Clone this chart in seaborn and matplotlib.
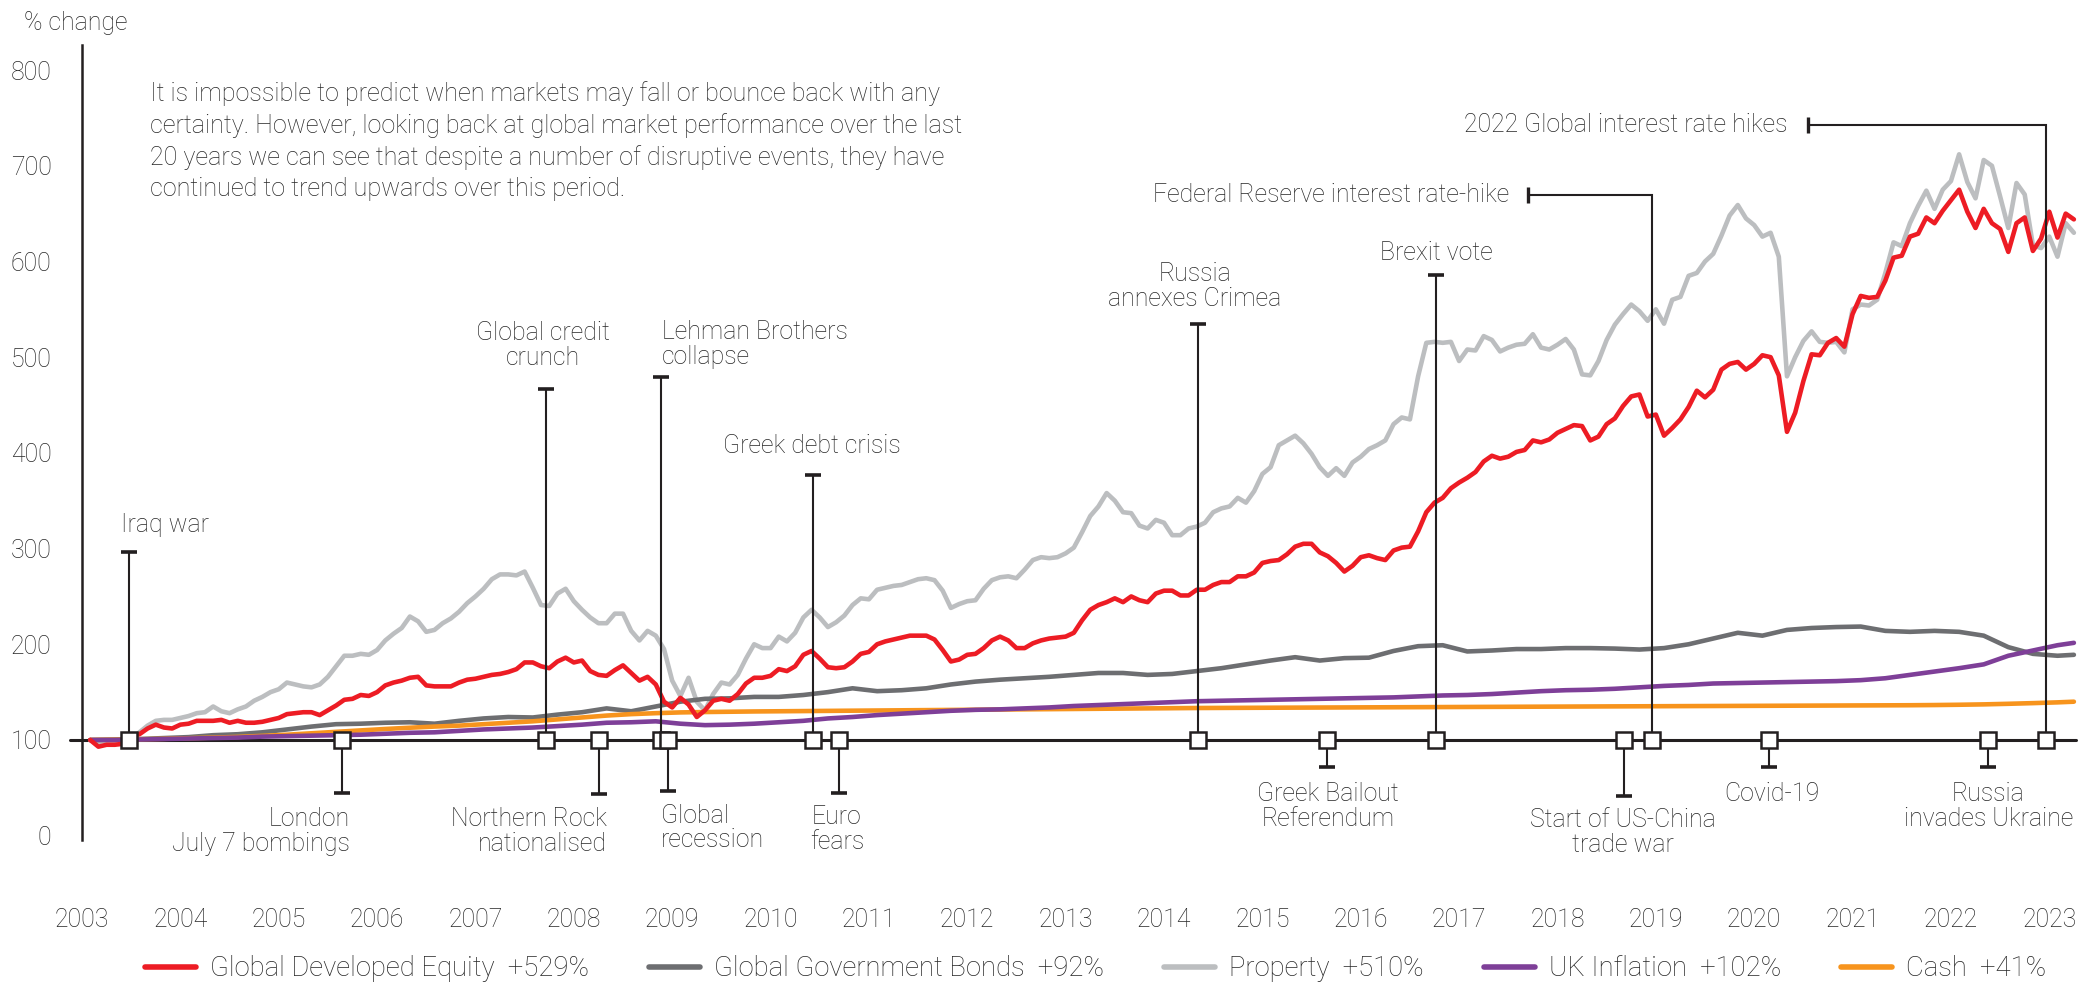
import numpy as np
import seaborn as sns
import matplotlib.pyplot as plt
from matplotlib.lines import Line2D

# monthly grid for the volatile series, quarterly for the smooth ones
months = 2003 + 1 / 12 + np.arange(243) / 12
quarters = np.append(months[::3], months[-1])

equity = [
    100, 93, 95, 95, 96, 104, 106, 112, 116, 113,
    112, 116, 117, 120, 120, 120, 121, 118, 120, 118,
    118, 119, 121, 123, 127, 128, 129, 129, 126, 131,
    136, 142, 143, 147, 146, 150, 157, 160, 162, 165,
    166, 157, 156, 156, 156, 160, 163, 164, 166, 168,
    169, 171, 174, 181, 181, 177, 175, 182, 186, 181,
    183, 172, 168, 167, 173, 178, 170, 162, 166, 158,
    140, 134, 144, 137, 124, 131, 141, 143, 141, 148,
    159, 165, 165, 167, 174, 172, 177, 189, 193, 185,
    176, 175, 176, 182, 190, 192, 200, 203, 205, 207,
    209, 209, 209, 205, 194, 182, 184, 189, 190, 196,
    204, 208, 204, 196, 196, 201, 204, 206, 207, 208,
    212, 225, 236, 241, 244, 248, 244, 250, 246, 244,
    253, 256, 256, 251, 251, 257, 257, 262, 265, 265,
    271, 271, 275, 285, 287, 288, 294, 302, 305, 305,
    296, 292, 285, 276, 282, 291, 293, 290, 288, 298,
    301, 302, 318, 338, 348, 353, 363, 369, 374, 380,
    391, 397, 394, 396, 401, 403, 413, 411, 414, 421,
    425, 429, 428, 413, 417, 430, 436, 449, 459, 461,
    438, 440, 418, 426, 435, 448, 465, 458, 466, 487,
    493, 495, 487, 493, 502, 500, 481, 422, 442, 475,
    503, 502, 515, 520, 511, 545, 564, 562, 563, 580,
    604, 606, 626, 629, 646, 640, 653, 664, 675, 652,
    635, 655, 640, 634, 610, 640, 646, 611, 624, 652,
    625, 650, 644,
]

prop = [
    100, 98, 99, 99, 100, 101, 108, 115, 120, 121,
    121, 123, 125, 128, 129, 135, 130, 128, 132, 135,
    141, 145, 150, 153, 160, 158, 156, 155, 158, 166,
    177, 188, 188, 190, 189, 194, 204, 211, 217, 229,
    224, 213, 215, 222, 227, 234, 243, 250, 258, 268,
    273, 273, 272, 276, 259, 241, 240, 253, 258, 245,
    236, 228, 222, 222, 232, 232, 214, 204, 214, 209,
    195, 162, 146, 165, 140, 131, 148, 160, 158, 168,
    185, 200, 196, 196, 208, 203, 212, 228, 236, 228,
    218, 223, 230, 241, 248, 247, 257, 259, 261, 262,
    265, 268, 269, 267, 256, 238, 242, 245, 246, 258,
    267, 270, 271, 269, 278, 288, 291, 290, 291, 295,
    301, 317, 334, 344, 358, 350, 338, 337, 324, 321,
    330, 327, 314, 314, 321, 323, 327, 338, 342, 344,
    353, 348, 360, 378, 385, 408, 413, 418, 410, 399,
    385, 376, 384, 376, 390, 396, 404, 408, 413, 430,
    437, 435, 480, 515, 516, 515, 516, 496, 508, 507,
    522, 518, 506, 510, 513, 514, 524, 510, 508, 513,
    519, 508, 482, 481, 496, 518, 534, 545, 555, 548,
    538, 550, 535, 560, 563, 585, 588, 600, 608, 627,
    648, 659, 645, 638, 626, 630, 605, 480, 500, 517,
    527, 516, 515, 516, 505, 550, 555, 554, 560, 588,
    620, 616, 640, 658, 674, 655, 675, 684, 712, 683,
    666, 706, 700, 668, 635, 682, 670, 617, 614, 626,
    605, 640, 630,
]

bonds = [
    100, 100.5, 101, 102, 103, 105, 106, 108, 111, 114,
    116.5, 117, 118, 118.5, 117, 120, 122.5, 124, 123.5, 126.5,
    129, 133, 130, 135, 140, 143, 143.5, 145, 145, 147,
    150, 154, 151, 152, 154, 158, 161, 163, 164.5, 166,
    168, 170, 170, 168, 169, 172, 175, 179, 183, 186.5,
    183, 185.5, 186, 193, 198, 199, 192.5, 193.5, 195, 195,
    196, 196, 195.5, 194.5, 196, 200, 206, 212, 209, 215,
    217, 218, 218.5, 214, 213, 214, 213, 209, 197, 190,
    188, 189,
]

inflation = [
    100, 100, 100.5, 101, 101.5, 102, 102.5, 103.5, 104, 104.5,
    105, 105.5, 106.5, 107.5, 108, 109.5, 111, 112, 113, 114.5,
    116, 118, 118.5, 119.5, 117, 115.5, 116, 117, 118.5, 120,
    122.5, 124, 126, 127.5, 129, 130.5, 131.5, 132, 133, 134,
    135.5, 136.5, 137.5, 138.5, 139.5, 140.5, 141, 141.5, 142, 142.5,
    143, 143.5, 144, 144.5, 145.5, 146.5, 147, 148, 149.5, 151,
    152, 152.5, 153.5, 155, 156.5, 157.5, 159, 159.5, 160, 160.5,
    161, 161.5, 162.5, 164.5, 168, 171.5, 175, 179, 188, 193.5,
    199, 201.5,
]

cash = [
    100, 100.3, 100.7, 101.2, 101.8, 102.5, 103.2, 104.3, 105.5, 107,
    108.5, 110, 111.5, 112.8, 114, 115, 116.5, 118, 119.5, 121.5,
    123.5, 125.5, 127, 128, 128.8, 129.2, 129.5, 129.8, 130, 130.2,
    130.4, 130.6, 130.8, 131, 131.2, 131.4, 131.6, 131.8, 132, 132.2,
    132.4, 132.6, 132.8, 133, 133.2, 133.4, 133.5, 133.6, 133.7, 133.8,
    133.9, 134, 134.1, 134.2, 134.3, 134.4, 134.5, 134.6, 134.7, 134.8,
    134.9, 135, 135.1, 135.2, 135.3, 135.4, 135.5, 135.6, 135.7, 135.8,
    135.9, 136, 136.1, 136.2, 136.3, 136.5, 136.8, 137.2, 137.8, 138.5,
    139.3, 140,
]

series_names = ["Global Developed Equity  +529%", "Global Government Bonds  +92%",
                "Property  +510%", "UK Inflation  +102%", "Cash  +41%"]
series_colors = ["#ED1C24", "#6D6E71", "#BCBEC0", "#7E3F98", "#F7941D"]

# events: date (decimal year) and how far the marker stem reaches
event_years = [2003.476, 2005.644, 2007.722, 2008.252, 2008.89, 2008.955,
               2010.427, 2010.70, 2014.343, 2015.66, 2016.766, 2018.68,
               2018.96, 2020.15, 2022.38, 2022.97]
event_ends = [296, 45, 467, 44, 479, 47, 377, 45, 535, 72, 586, 41.5,
              669, 72, 72, 743]
# the two rate hike events bend left into a bracket
bracket_ends = {12: 2017.70, 15: 2020.545}

labels = [
    ("Iraq war", 2003.40, 325, "left"),
    ("London\nJuly 7 bombings", 2005.72, 4, "right"),
    ("Global credit\ncrunch", 2007.69, 512, "center"),
    ("Northern Rock\nnationalised", 2008.34, 4, "right"),
    ("Lehman Brothers\ncollapse", 2008.90, 513, "left"),
    ("Global\nrecession", 2008.888, 8, "left"),
    ("Greek debt crisis", 2010.42, 407, "center"),
    ("Euro\nfears", 2010.675, 6, "center"),
    ("Russia\nannexes Crimea", 2014.31, 574, "center"),
    ("Greek Bailout\nReferendum", 2015.67, 30, "center"),
    ("Brexit vote", 2016.77, 609, "center"),
    ("Start of US-China\ntrade war", 2018.67, 3.5, "center"),
    ("Federal Reserve interest rate-hike", 2017.51, 669, "right"),
    ("Covid-19", 2020.18, 44, "center"),
    ("Russia\ninvades Ukraine", 2022.38, 30, "center"),
    ("2022 Global interest rate hikes", 2020.34, 743, "right"),
]

sns.set_style("white")
plt.rcParams["font.family"] = ["Roboto", "DejaVu Sans"]
plt.rcParams["font.weight"] = "light"
text_col = "#262626"
dark = "#231F20"
fs = 17.9

fig = plt.figure(figsize=(20.85, 9.84), dpi=100, facecolor="white")
ax = fig.add_axes([82 / 2085, 144.5 / 984, 2003 / 2085, 794.3 / 984])
x0, x1 = 2003.063, 2023.363
ax.set_xlim(x0, x1)
ax.set_ylim(-4, 826)

# baseline at 100
ax.plot([x0 - 0.19, 2023.27], [100, 100], color=dark, lw=2.2, clip_on=False, zorder=2)

lw = 3.3
sns.lineplot(x=months, y=prop, ax=ax, color=series_colors[2], lw=lw, zorder=3)
sns.lineplot(x=quarters, y=bonds, ax=ax, color=series_colors[1], lw=lw, zorder=3)
sns.lineplot(x=quarters, y=cash, ax=ax, color=series_colors[4], lw=lw, zorder=3)
sns.lineplot(x=quarters, y=inflation, ax=ax, color=series_colors[3], lw=lw, zorder=3)
sns.lineplot(x=months, y=equity, ax=ax, color=series_colors[0], lw=lw, zorder=4)

# event stems, caps and brackets
for i, (yr, end) in enumerate(zip(event_years, event_ends)):
    if i in bracket_ends:
        left = bracket_ends[i]
        ax.plot([yr, yr, left], [100, end, end], color=dark, lw=1.5, zorder=5,
                solid_joinstyle="miter")
        ax.plot(left, end, marker="|", ms=12, mew=2.4, color=dark, zorder=5)
    else:
        ax.plot([yr, yr], [100, end], color=dark, lw=1.5, zorder=5)
        ax.plot(yr, end, marker="_", ms=12, mew=2.6, color=dark, zorder=5)

ax.plot(event_years, [100] * len(event_years), ls="none", marker="s", ms=12,
        mfc="white", mec=dark, mew=1.8, zorder=6, clip_on=False)

for text, x, y, ha in labels:
    ax.text(x, y, text, ha=ha, va="center", fontsize=fs, color=text_col,
            linespacing=1.05, zorder=7)

# axes styling
for side in ["top", "right", "bottom"]:
    ax.spines[side].set_visible(False)
ax.spines["left"].set_color(dark)
ax.spines["left"].set_linewidth(1.8)
ax.set_yticks(range(0, 900, 100))
ax.set_xticks(range(2003, 2024))
ax.tick_params(axis="y", length=0, pad=22, labelsize=fs, labelcolor=text_col)
ax.tick_params(axis="x", length=0, pad=49, labelsize=fs, labelcolor=text_col)
ax.set_xlabel("")
ax.set_ylabel("")

fig.text(24 / 2085, 1 - 23 / 984, "% change", ha="left", va="center",
         fontsize=fs, color=text_col)

body = ("It is impossible to predict when markets may fall or bounce back with any\n"
        "certainty. However, looking back at global market performance over the last\n"
        "20 years we can see that despite a number of disruptive events, they have\n"
        "continued to trend upwards over this period.")
fig.text(150 / 2085, 1 - 81 / 984, body, ha="left", va="top", fontsize=18.1,
         color=text_col, linespacing=1.36)

order = [0, 1, 2, 3, 4]
handles = [Line2D([], [], color=series_colors[i], lw=4) for i in order]
ax.legend(handles, [series_names[i] for i in order], loc="center", ncol=5,
          bbox_to_anchor=(0.5255, 15 / 984), bbox_transform=fig.transFigure,
          frameon=False, fontsize=19.8, handlelength=1.85, handletextpad=0.5,
          columnspacing=2.2, labelcolor=text_col, borderaxespad=0, borderpad=0.1)

fig.savefig("out.png", dpi=100)
